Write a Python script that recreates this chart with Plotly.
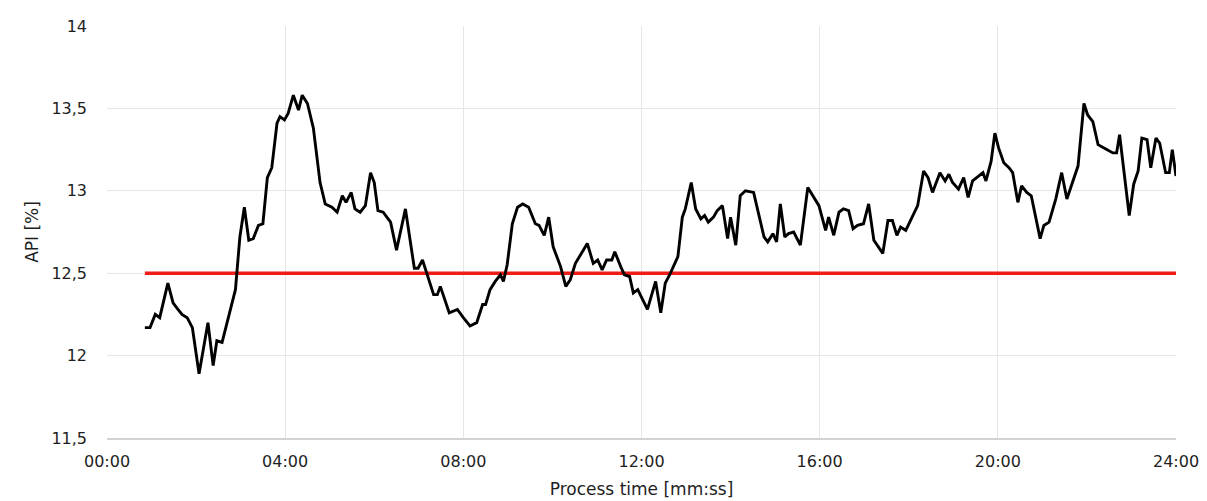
import plotly.graph_objects as go

# Process time in seconds and measured API content in %
time_s = [51, 58, 65, 71, 82, 89, 94, 101, 108, 115, 124, 136, 143, 148, 155, 163, 173, 179, 185, 191,
          197, 204, 210, 216, 222, 229, 233, 239, 244, 251, 258, 263, 270, 278, 287, 294, 303, 310, 317, 322,
          329, 334, 341, 348, 355, 360, 365, 372, 382, 390, 402, 414, 419, 425, 431, 440, 445, 449, 461, 472,
          480, 489, 498, 506, 510, 516, 523, 530, 534, 539, 546, 553, 560, 568, 577, 582, 589, 595, 601, 611,
          618, 624, 631, 638, 647, 655, 661, 667, 673, 680, 684, 692, 697, 704, 709, 715, 728, 739, 746, 752,
          759, 769, 775, 779, 787, 793, 800, 805, 810, 817, 822, 829, 836, 840, 847, 853, 860, 871, 878, 885,
          890, 897, 902, 907, 913, 918, 925, 934, 944, 951, 959, 968, 972, 979, 986, 992, 999, 1005, 1011, 1019,
          1026, 1033, 1045, 1052, 1058, 1064, 1069, 1076, 1085, 1092, 1100, 1106, 1112, 1122, 1129, 1134, 1139, 1147, 1154, 1160,
          1166, 1176, 1180, 1184, 1191, 1196, 1201, 1208, 1215, 1220, 1227, 1232, 1239, 1245, 1257, 1262, 1269, 1278, 1286, 1293,
          1301, 1308, 1316, 1321, 1328, 1335, 1343, 1355, 1360, 1364, 1377, 1383, 1389, 1394, 1401, 1406, 1413, 1418, 1426, 1431,
          1435, 1440]
api_pct = [12.17, 12.17, 12.25, 12.23, 12.44, 12.32, 12.29, 12.25, 12.23, 12.17, 11.89, 12.20, 11.94, 12.09, 12.08, 12.23, 12.40, 12.72, 12.90, 12.70,
           12.71, 12.79, 12.80, 13.08, 13.14, 13.41, 13.45, 13.43, 13.47, 13.58, 13.49, 13.58, 13.53, 13.38, 13.05, 12.92, 12.90, 12.87, 12.97, 12.93,
           12.99, 12.89, 12.87, 12.91, 13.11, 13.05, 12.88, 12.87, 12.81, 12.64, 12.89, 12.53, 12.53, 12.58, 12.50, 12.37, 12.37, 12.42, 12.26, 12.28,
           12.23, 12.18, 12.20, 12.31, 12.31, 12.40, 12.45, 12.49, 12.45, 12.55, 12.80, 12.90, 12.92, 12.90, 12.80, 12.79, 12.73, 12.84, 12.66, 12.54,
           12.42, 12.46, 12.56, 12.61, 12.68, 12.56, 12.58, 12.52, 12.58, 12.58, 12.63, 12.54, 12.49, 12.48, 12.38, 12.40, 12.28, 12.45, 12.26, 12.44,
           12.50, 12.60, 12.84, 12.89, 13.05, 12.89, 12.83, 12.85, 12.81, 12.84, 12.88, 12.91, 12.71, 12.84, 12.67, 12.97, 13.00, 12.99, 12.85, 12.72,
           12.69, 12.74, 12.69, 12.92, 12.72, 12.74, 12.75, 12.67, 13.02, 12.97, 12.91, 12.76, 12.84, 12.73, 12.87, 12.89, 12.88, 12.77, 12.79, 12.80,
           12.92, 12.70, 12.62, 12.82, 12.82, 12.73, 12.78, 12.76, 12.84, 12.91, 13.12, 13.08, 12.99, 13.11, 13.06, 13.10, 13.05, 13.01, 13.08, 12.96,
           13.06, 13.10, 13.11, 13.06, 13.18, 13.35, 13.26, 13.17, 13.14, 13.11, 12.93, 13.03, 12.99, 12.97, 12.71, 12.79, 12.81, 12.95, 13.11, 12.95,
           13.05, 13.15, 13.53, 13.46, 13.42, 13.28, 13.26, 13.23, 13.23, 13.34, 12.85, 13.04, 13.12, 13.32, 13.31, 13.14, 13.32, 13.29, 13.11, 13.11,
           13.25, 13.09]

# Target content line
target_value = 12.5
target_span_s = [51, 1440]

x_tick_vals = [0, 240, 480, 720, 960, 1200, 1440]
x_tick_text = ["00:00", "04:00", "08:00", "12:00", "16:00", "20:00", "24:00"]
y_tick_vals = [11.5, 12, 12.5, 13, 13.5, 14]
y_tick_text = ["11,5", "12", "12,5", "13", "13,5", "14"]

font_family = "DejaVu Sans, Verdana, sans-serif"
text_color = "#1e1e1e"

fig = go.Figure()
fig.add_trace(go.Scatter(
    x=target_span_s, y=[target_value] * len(target_span_s), mode="lines",
    line=dict(color="#ee1d18", width=3.4), showlegend=False, hoverinfo="skip",
))
fig.add_trace(go.Scatter(
    x=time_s, y=api_pct, mode="lines",
    line=dict(color="#000000", width=2.9), showlegend=False,
))

fig.update_layout(
    width=1207, height=501,
    margin=dict(l=107, r=31, t=26, b=63),
    paper_bgcolor="white", plot_bgcolor="white",
    font=dict(family=font_family, size=16, color=text_color),
)
fig.update_xaxes(
    range=[0, 1440], tickvals=x_tick_vals, ticktext=x_tick_text,
    automargin=False,
    showgrid=True, gridcolor="#e6e6e6", gridwidth=1.3,
    showline=True, linecolor="#d2d2d2", linewidth=2,
    zeroline=False, ticks="", tickfont=dict(size=16, color=text_color),
    ticklabelstandoff=8,
    title=dict(text="Process time [mm:ss]", font=dict(size=17, color=text_color), standoff=13),
)
fig.update_yaxes(
    range=[11.5, 14], tickvals=y_tick_vals, ticktext=y_tick_text,
    automargin=False,
    showgrid=True, gridcolor="#e6e6e6", gridwidth=1.3,
    showline=False, zeroline=False, ticks="",
    tickfont=dict(size=16, color=text_color), ticklabelstandoff=19,
    title=dict(text="API [%]", font=dict(size=17, color=text_color), standoff=8),
)

fig.write_html("out.html")
